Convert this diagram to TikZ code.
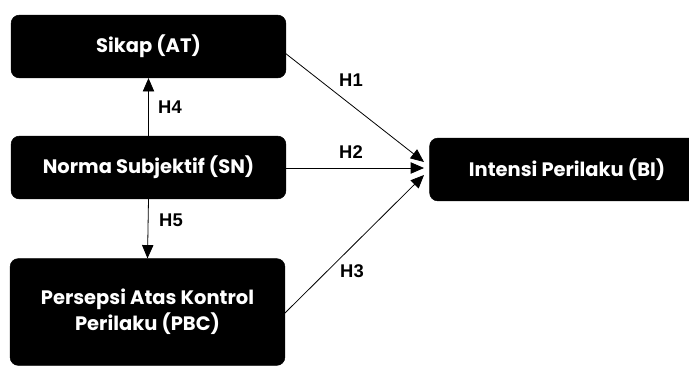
\documentclass[tikz,border=0pt]{standalone}
\usepackage{fontspec}
\setmainfont{Poppins}
\newfontfamily\labelfont{Liberation Sans}
\usetikzlibrary{arrows.meta}

\tikzset{
    varbox/.style={rectangle, rounded corners=6pt, fill=black, draw=black,
        text=white, font=\bfseries\fontsize{14.6}{19.5}\selectfont, align=center,
        minimum width=206pt, minimum height=47pt, inner sep=0pt},
    hlabel/.style={font=\labelfont\bfseries\fontsize{13.8}{16}\selectfont, inner sep=0pt},
    link/.style={-{Triangle[length=10pt,width=8.5pt]}, line width=0.6pt}
}

\begin{document}
\begin{tikzpicture}[x=0.75pt, y=-0.75pt]
    \useasboundingbox (0,0) rectangle (689,365);
    % Nodes
    \node[varbox] (at) at (148.5, 46.5) {Sikap (AT)};
    \node[varbox] (sn) at (148.5, 167.5) {Norma Subjektif (SN)};
    \node[varbox, minimum height=80pt] (pbc) at (147.5, 312) {Persepsi Atas Kontrol\\Perilaku (PBC)};
    \node[varbox, minimum width=206pt] (bi) at (567, 169.5) {Intensi Perilaku (BI)};
    % Arrow ends
    \coordinate (atout) at (285, 53);
    \coordinate (pbcout) at (285, 313);
    \coordinate (bitop) at (424, 162);
    \coordinate (bimid) at (424, 168);
    \coordinate (bibot) at (424, 175);
    % Edges
    \draw[link] (atout) -- (bitop);
    \draw[link] (sn.east |- bimid) -- (bimid);
    \draw[link] (pbcout) -- (bibot);
    \draw[link] (sn.north) -- (at.south);
    \draw[link] (sn.south) -- (pbc.north);
    % Labels
    \node[hlabel] (h1) at (351, 80) {H1};
    \node[hlabel] (h2) at (351, 152) {H2};
    \node[hlabel] (h3) at (352, 271) {H3};
    \node[hlabel] (h4) at (170, 107) {H4};
    \node[hlabel] (h5) at (171, 220) {H5};
\end{tikzpicture}
\end{document}
